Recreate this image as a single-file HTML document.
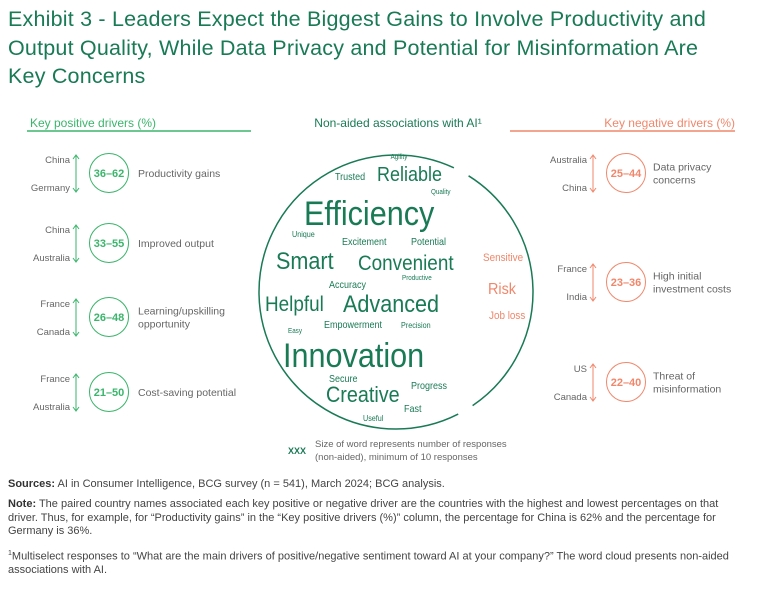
<!DOCTYPE html>
<html><head><meta charset="utf-8">
<style>
body{margin:0;width:768px;height:589px;background:#fff;font-family:"Liberation Sans",sans-serif;overflow:hidden;position:relative}
#title{position:absolute;left:8px;top:5px;font-size:21.5px;line-height:28.5px;color:#197a56;white-space:nowrap;letter-spacing:0.2px}
.foot{position:absolute;left:8px;font-size:11px;line-height:13.5px;color:#444;width:740px}
.foot b{color:#333;font-weight:bold}
</style></head><body>
<div id="title">Exhibit 3 - Leaders Expect the Biggest Gains to Involve Productivity and<br>Output Quality, While Data Privacy and Potential for Misinformation Are<br>Key Concerns</div>
<svg id="main" width="768" height="589" style="position:absolute;left:0;top:0"></svg>
<div class="foot" style="top:478px"><b>Sources:</b> AI in Consumer Intelligence, BCG survey (n = 541), March 2024; BCG analysis.</div>
<div class="foot" style="top:498px"><b>Note:</b> The paired country names associated each key positive or negative driver are the countries with the highest and lowest percentages on that driver. Thus, for example, for “Productivity gains” in the “Key positive drivers (%)” column, the percentage for China is 62% and the percentage for Germany is 36%.</div>
<div class="foot" style="top:547px;width:752px"><sup style="font-size:7px">1</sup>Multiselect responses to “What are the main drivers of positive/negative sentiment toward AI at your company?” The word cloud presents non-aided associations with AI.</div>
<script>
const posLabels=["Productivity gains","Improved output","Learning/upskilling|opportunity","Cost-saving potential"];
const posHigh=["China","China","France","France"];
const posLow=["Germany","Australia","Canada","Australia"];
const posMin=[36,33,26,21];
const posMax=[62,55,48,50];
const negLabels=["Data privacy|concerns","High initial|investment costs","Threat of|misinformation"];
const negHigh=["Australia","France","US"];
const negLow=["China","India","Canada"];
const negMin=[25,23,22];
const negMax=[44,36,40];
const words=["Agility","Trusted","Reliable","Quality","Efficiency","Unique","Excitement","Potential","Smart","Convenient","Productive","Accuracy","Helpful","Advanced","Empowerment","Precision","Easy","Innovation","Secure","Progress","Creative","Fast","Useful","Sensitive","Risk","Job loss"];
const wordSizes=[7,10,20,7,34,8,10,10,24,21,7,10,21,24,10,8,7,34,10,10,22,10,8,11,16,11];
const wordNegative=[0,0,0,0,0,0,0,0,0,0,0,0,0,0,0,0,0,0,0,0,0,0,0,1,1,1];
const wordPos=[[399,159],[335,180],[377,181],[431,194],[304,225],[292,237],[342,245],[411,245],[276,269],[358,270],[402,280],[329,288],[265,311],[343,312],[324,328],[401,328],[288,333],[283,367],[329,382],[411,389],[326,402],[404,412],[363,421],[483,261],[488,294],[489,319]];
const svg=document.getElementById('main');
const NS="http://www.w3.org/2000/svg";
function mk(tag,attrs,txt){const e=document.createElementNS(NS,tag);for(const k in attrs)e.setAttribute(k,attrs[k]);if(txt!=null)e.textContent=txt;svg.appendChild(e);return e;}
const G="#197a56",LG="#3ab56b",SAL="#f0876b",GR="#666";
let e;
e=mk('text',{x:30,y:127,'font-size':12,fill:LG},"Key positive drivers (%)");

e=mk('line',{x1:27,y1:131,x2:251,y2:131,stroke:LG,'stroke-width':1.5});

e=mk('text',{x:398,y:127,'font-size':12,fill:G,'text-anchor':'middle'},"Non-aided associations with AI¹");

e=mk('text',{x:735,y:127,'font-size':12,fill:SAL,'text-anchor':'end'},"Key negative drivers (%)");

e=mk('line',{x1:510,y1:131,x2:735,y2:131,stroke:SAL,'stroke-width':1.5});

function driver(cx,cy,col,hi,lo,mn,mx,label,labx,name){
  const g=document.createElementNS(NS,'g');svg.appendChild(g);
  
  
  const add=(tag,a,t)=>{const x=document.createElementNS(NS,tag);for(const k in a)x.setAttribute(k,a[k]);if(t!=null)x.textContent=t;g.appendChild(x);return x;};
  const ax=cx-33;
  add('text',{x:ax-6,y:cy-10,'font-size':9.5,fill:GR,'text-anchor':'end'},hi);
  add('text',{x:ax-6,y:cy+18,'font-size':9.5,fill:GR,'text-anchor':'end'},lo);
  add('line',{x1:ax,y1:cy-17,x2:ax,y2:cy+18,stroke:col,'stroke-width':1});
  add('path',{d:`M${ax-3},${cy-14}L${ax},${cy-18}L${ax+3},${cy-14}M${ax-3},${cy+15}L${ax},${cy+19}L${ax+3},${cy+15}`,stroke:col,fill:'none','stroke-width':1});
  add('circle',{cx:cx,cy:cy,r:19.5,fill:'none',stroke:col,'stroke-width':1});
  add('text',{x:cx,y:cy+4,'font-size':11,'font-weight':'bold',fill:col,'text-anchor':'middle'},mn+"–"+mx);
  const ls=label.split('|');
  ls.forEach((l,i)=>add('text',{x:labx,y:cy+4-(ls.length-1)*6.5+i*13,'font-size':10.5,fill:GR},l));
}
const posY=[173,243,317,392];
posLabels.forEach((l,i)=>driver(109,posY[i],LG,posHigh[i],posLow[i],posMin[i],posMax[i],l,138,'positive-driver-'+(i+1)));
const negY=[173,282,382];
negLabels.forEach((l,i)=>driver(626,negY[i],SAL,negHigh[i],negLow[i],negMin[i],negMax[i],l,653,'negative-driver-'+(i+1)));
const cx=396,cy=292,r=137;
function pt(a){const t=a*Math.PI/180;return [cx+r*Math.cos(t),cy+r*Math.sin(t)];}
function arc(a1,a2,name){const p1=pt(a1),p2=pt(a2);const large=((a2-a1+360)%360)>180?1:0;
 const el=mk('path',{d:`M${p1[0]},${p1[1]}A${r},${r} 0 ${large} 1 ${p2[0]},${p2[1]}`,fill:'none',stroke:G,'stroke-width':1.5});
 }
arc(63,-65,'wordcloud-circle-left');
arc(-58,56,'wordcloud-circle-right');
words.forEach((w,i)=>{
  const t=mk('text',{x:0,y:0,transform:`translate(${wordPos[i][0]},${wordPos[i][1]}) scale(0.9,1)`,'font-size':wordSizes[i],fill:wordNegative[i]?SAL:G,'text-anchor':i==0?'middle':'start'},w);
  
  
});
e=mk('text',{x:288,y:454,'font-size':9,'font-weight':'bold',fill:G},"XXX");

e=mk('text',{x:315,y:447,'font-size':9.5,fill:GR},"Size of word represents number of responses");

e=mk('text',{x:315,y:460,'font-size':9.5,fill:GR},"(non-aided), minimum of 10 responses");

</script>
</body></html>
